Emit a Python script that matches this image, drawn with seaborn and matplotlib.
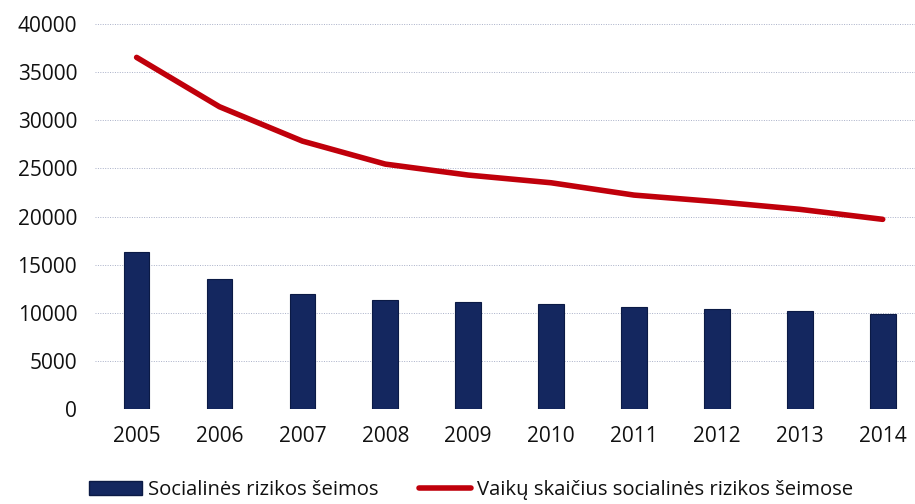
import numpy as np
import pandas as pd
import matplotlib
matplotlib.use("Agg")
import matplotlib.pyplot as plt
import seaborn as sns
from matplotlib.patches import Patch
from matplotlib.lines import Line2D

years = ["2005", "2006", "2007", "2008", "2009", "2010", "2011", "2012", "2013", "2014"]
families = [16340, 13470, 11910, 11290, 11080, 10880, 10560, 10350, 10180, 9870]
children = [36540, 31410, 27840, 25450, 24310, 23510, 22230, 21540, 20750, 19710]
yticks = [0, 5000, 10000, 15000, 20000, 25000, 30000, 35000, 40000]

bar_label = "Socialinės rizikos šeimos"
line_label = "Vaikų skaičius socialinės rizikos šeimose"

BAR_COLOR = "#14275f"
LINE_COLOR = "#c0000b"

sns.set_theme(style="white")
plt.rcParams["font.family"] = ["Open Sans", "DejaVu Sans"]

df = pd.DataFrame({"year": years, "families": families, "children": children})
df["pos"] = np.arange(len(df))

fig = plt.figure(figsize=(9.15, 5.04), dpi=100)
ax = fig.add_axes([0.104, 0.1885, 0.906, 0.7637])

sns.barplot(data=df, x="year", y="families", color=BAR_COLOR, width=0.31,
            saturation=1, edgecolor="#0b1a45", linewidth=0.8, ax=ax, zorder=3)
sns.lineplot(data=df, x="pos", y="children", color=LINE_COLOR, linewidth=4.0,
             ax=ax, zorder=4, solid_capstyle="round")

ax.set_xlim(-0.5, len(years) - 0.5)
ax.set_ylim(0, 40000)
ax.set_yticks(yticks)
ax.set_yticklabels([str(v) for v in yticks])
ax.set_xticks(np.arange(len(years)))
ax.set_xticklabels(years)
ax.set_xlabel("")
ax.set_ylabel("")
ax.tick_params(axis="y", length=0, pad=13, labelsize=15, labelcolor="#111111")
ax.tick_params(axis="x", length=0, pad=12, labelsize=15, labelcolor="#111111")

for y in yticks:
    ax.axhline(y, color="#a9b0c8", linewidth=0.7, linestyle=(0, (1, 1.5)), zorder=1)

for s in ax.spines.values():
    s.set_visible(False)

handles = [
    Patch(facecolor=BAR_COLOR, edgecolor="#0b1a45", label=bar_label),
    Line2D([0], [0], color=LINE_COLOR, linewidth=4.0, label=line_label),
]
fig.legend(handles=handles, loc="center", bbox_to_anchor=(0.515, 0.027), ncol=2,
           frameon=False, fontsize=14.6, handlelength=2.6, handleheight=0.7,
           handletextpad=0.3, columnspacing=2.0, labelcolor="#111111")

fig.savefig("out.png", dpi=100)
